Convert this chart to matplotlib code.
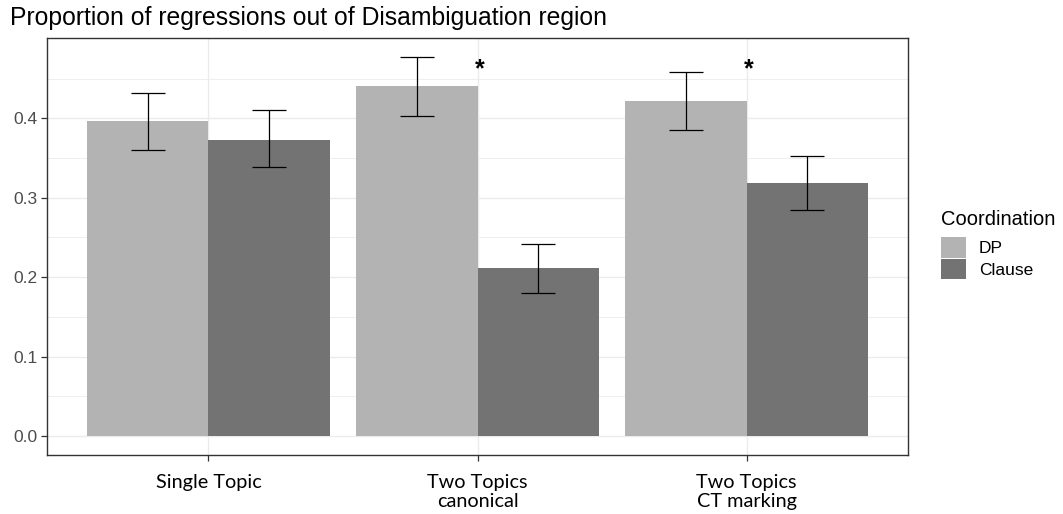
import matplotlib
matplotlib.use("Agg")
import matplotlib.pyplot as plt
import numpy as np
from matplotlib.patches import Patch

# proportion of regressions, per condition and coordination type
conditions = ["Single Topic", "Two Topics\ncanonical", "Two Topics\nCT marking"]
dp_mean = [0.397, 0.440, 0.422]
dp_lo = [0.360, 0.403, 0.385]
dp_hi = [0.432, 0.477, 0.458]
clause_mean = [0.373, 0.212, 0.318]
clause_lo = [0.338, 0.180, 0.284]
clause_hi = [0.410, 0.242, 0.353]
signif = [False, True, True]
star_y = 0.461

DP_COL = "#B3B3B3"
CL_COL = "#737373"

plt.rcParams["font.family"] = ["Liberation Sans", "DejaVu Sans"]

fig = plt.figure(figsize=(10.63, 5.14), dpi=100)
ax = fig.add_axes([47 / 1063, 59 / 514, 861 / 1063, 417 / 514])

x = np.arange(1, len(conditions) + 1)
w = 0.45
ax.bar(x - w / 2, dp_mean, w, color=DP_COL, zorder=2)
ax.bar(x + w / 2, clause_mean, w, color=CL_COL, zorder=2)

for xs, m, lo, hi in [(x - w / 2, dp_mean, dp_lo, dp_hi),
                      (x + w / 2, clause_mean, clause_lo, clause_hi)]:
    m = np.array(m)
    yerr = [m - np.array(lo), np.array(hi) - m]
    ax.errorbar(xs, m, yerr=yerr, fmt="none", ecolor="black",
                elinewidth=0.9, capsize=12.5, capthick=0.9, zorder=3)

for xi, s in zip(x, signif):
    if s:
        ax.text(xi + 0.01, star_y, "*", ha="center", va="center",
                fontsize=18, fontweight="bold", zorder=4)

ax.set_xlim(0.4, 3.6)
ax.set_ylim(-0.024, 0.501)
ax.set_yticks([0.0, 0.1, 0.2, 0.3, 0.4])
ax.set_yticklabels(["0.0", "0.1", "0.2", "0.3", "0.4"])
ax.set_yticks([0.05, 0.15, 0.25, 0.35, 0.45], minor=True)
ax.set_xticks(x)
ax.set_xticklabels(conditions, family=["Lato", "DejaVu Sans"], fontsize=14.3,
                   color="black", linespacing=1.1)

ax.grid(True, which="major", color="#EBEBEB", linewidth=1.0, zorder=0)
ax.grid(True, which="minor", axis="y", color="#EBEBEB", linewidth=0.6, zorder=0)
ax.set_axisbelow(True)
for sp in ax.spines.values():
    sp.set_color("#333333")
    sp.set_linewidth(1.0)
ax.tick_params(axis="both", which="major", color="#333333", length=4, width=0.9)
ax.tick_params(axis="y", which="major", labelsize=12.5, labelcolor="#4D4D4D", pad=3)
ax.tick_params(axis="x", which="major", pad=10)
ax.tick_params(which="minor", length=0)

fig.text(10 / 1063, 1 - 18 / 514, "Proportion of regressions out of Disambiguation region",
         fontsize=17.8, ha="left", va="center")

handles = [Patch(facecolor=DP_COL, edgecolor="none", label="DP"),
           Patch(facecolor=CL_COL, edgecolor="none", label="Clause")]
leg = fig.legend(handles=handles, title="Coordination", loc="upper left",
                 bbox_to_anchor=(927 / 1063, 1 - 196 / 514), frameon=False,
                 fontsize=12.5, title_fontsize=14.5, handlelength=1.45, handleheight=1.45,
                 handletextpad=0.75, labelspacing=0.05, borderpad=0.3)
leg._legend_box.align = "left"
leg._legend_box.sep = 6

fig.savefig("out.png", dpi=100)
